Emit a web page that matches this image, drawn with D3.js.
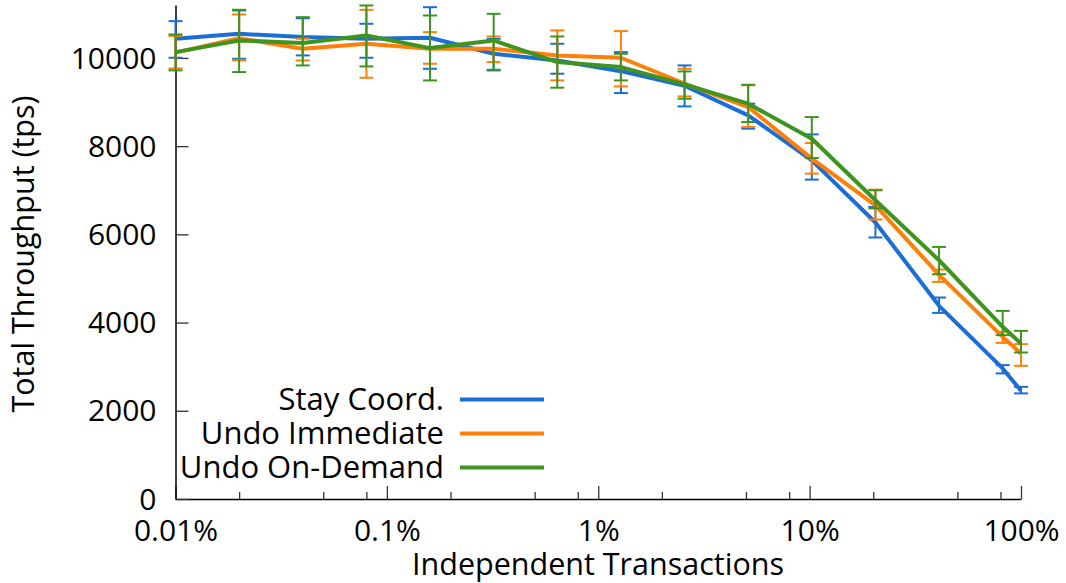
<!DOCTYPE html>
<html lang="en">
<head>
  <meta charset="UTF-8">
  <title>Total Throughput</title>
  <script src="https://d3js.org/d3.v7.min.js"></script>
  <style>
    * { margin: 0; padding: 0; }
    body { background-color: #fff; }
    svg { display: block; font-family: "Open Sans", sans-serif; }
  </style>
</head>
<body>
  <svg id="chart" width="1066" height="583"></svg>

  <script>
    // independent transactions (%)
    var xVals = [0.01, 0.02, 0.04, 0.08, 0.16, 0.32, 0.64, 1.28, 2.56, 5.12, 10.24, 20.48, 40.96, 81.92, 100];

    // Stay Coord.
    var stay   = [10435, 10547, 10472, 10434, 10457, 10095, 9943, 9700, 9370, 8698, 7678, 6270, 4380, 2960, 2453];
    var stayLo = [10004, 9981, 10057, 10004, 9754, 9717, 9642, 9203, 8901, 8396, 7241, 5929, 4220, 2847, 2394];
    var stayHi = [10834, 11076, 10900, 10774, 11150, 10434, 10321, 10132, 9830, 8963, 8267, 6622, 4568, 3035, 2543];

    // Undo Immediate
    var imm   = [10120, 10448, 10208, 10321, 10208, 10208, 10057, 10004, 9420, 8886, 7717, 6659, 5080, 3676, 3299];
    var immLo = [9760, 9943, 9943, 9551, 9868, 9906, 9490, 9355, 9128, 8433, 7377, 6335, 4922, 3540, 3020];
    var immHi = [10500, 10985, 10435, 11090, 10585, 10487, 10623, 10608, 9754, 9380, 8071, 7014, 5202, 3790, 3511];

    // Undo On-Demand
    var dem   = [10132, 10396, 10340, 10510, 10223, 10396, 9906, 9792, 9400, 8963, 8169, 6772, 5413, 3903, 3526];
    var demLo = [9717, 9679, 9830, 9807, 9490, 9732, 9325, 9490, 9075, 8547, 7731, 6587, 5096, 3715, 3322];
    var demHi = [10532, 11092, 10924, 11189, 10962, 11000, 10487, 10094, 9694, 9392, 8659, 6999, 5715, 4265, 3812];

    var seriesNames = ["Stay Coord.", "Undo Immediate", "Undo On-Demand"];
    var seriesColors = ["#1c6dd4", "#ff7f08", "#3d951f"];

    var xTicks = [0.01, 0.1, 1, 10, 100];
    var xTickLabels = ["0.01%", "0.1%", "1%", "10%", "100%"];
    var xMinor = [0.02, 0.05, 0.08, 0.2, 0.5, 0.8, 2, 5, 8, 20, 50, 80];
    var yTicks = [0, 2000, 4000, 6000, 8000, 10000];

    var svg = d3.select("#chart");
    var x = d3.scaleLog().domain([0.01, 100]).range([175.5, 1021]);
    var y = d3.scaleLinear().domain([0, 11200]).range([499, 5]);

    var series = [
      { name: seriesNames[0], color: seriesColors[0], v: stay, lo: stayLo, hi: stayHi },
      { name: seriesNames[1], color: seriesColors[1], v: imm, lo: immLo, hi: immHi },
      { name: seriesNames[2], color: seriesColors[2], v: dem, lo: demLo, hi: demHi }
    ];

    // axes
    var xAxis = d3.axisBottom(x).tickValues(xTicks).tickSizeInner(-13).tickSizeOuter(0)
      .tickFormat(function(d, i) { return xTickLabels[i]; });
    var gx = svg.append("g").attr("transform", "translate(0," + y(0) + ")").call(xAxis);
    gx.select(".domain").attr("stroke", "#000").attr("stroke-width", 1.5);
    gx.selectAll(".tick line").attr("stroke", "#333").attr("stroke-width", 1.3);
    gx.selectAll(".tick text").attr("font-size", 30).attr("font-family", "Open Sans")
      .attr("fill", "#000").attr("y", 0).attr("dy", 42);

    var gm = svg.append("g").attr("transform", "translate(0," + y(0) + ")")
      .call(d3.axisBottom(x).tickValues(xMinor).tickSizeInner(-7).tickSizeOuter(0).tickFormat(""));
    gm.select(".domain").remove();
    gm.selectAll(".tick line").attr("stroke", "#333").attr("stroke-width", 1.3);

    var yAxis = d3.axisLeft(y).tickValues(yTicks).tickSizeInner(-13).tickSizeOuter(0)
      .tickFormat(d3.format("d"));
    var gy = svg.append("g").attr("transform", "translate(" + x(0.01) + ",0)").call(yAxis);
    gy.select(".domain").attr("stroke", "#000").attr("stroke-width", 1.5);
    gy.selectAll(".tick line").attr("stroke", "#333").attr("stroke-width", 1.3);
    gy.selectAll(".tick text").attr("font-size", 30).attr("font-family", "Open Sans")
      .attr("fill", "#000").attr("x", -19).attr("dy", "0.34em");

    svg.append("text").attr("x", 598).attr("y", 575).attr("text-anchor", "middle")
      .attr("font-size", 30.5).text("Independent Transactions");
    svg.append("text").attr("transform", "translate(34,254) rotate(-90)").attr("text-anchor", "middle")
      .attr("font-size", 30.5).text("Total Throughput (tps)");

    // data
    var line = d3.line()
      .x(function(d, i) { return x(xVals[i]); })
      .y(function(d) { return y(d); });

    series.forEach(function(s) {
      var g = svg.append("g");
      var bars = g.selectAll(".eb").data(xVals).enter().append("g");
      bars.append("line")
        .attr("x1", function(d) { return x(d); }).attr("x2", function(d) { return x(d); })
        .attr("y1", function(d, i) { return y(s.lo[i]); }).attr("y2", function(d, i) { return y(s.hi[i]); });
      bars.append("line")
        .attr("x1", function(d) { return x(d) - 7; }).attr("x2", function(d) { return x(d) + 7; })
        .attr("y1", function(d, i) { return y(s.lo[i]); }).attr("y2", function(d, i) { return y(s.lo[i]); });
      bars.append("line")
        .attr("x1", function(d) { return x(d) - 7; }).attr("x2", function(d) { return x(d) + 7; })
        .attr("y1", function(d, i) { return y(s.hi[i]); }).attr("y2", function(d, i) { return y(s.hi[i]); });
      bars.selectAll("line").attr("stroke", s.color).attr("stroke-width", 2);

      g.append("path").attr("d", line(s.v)).attr("fill", "none")
        .attr("stroke", s.color).attr("stroke-width", 4).attr("stroke-linejoin", "round");
    });

    // legend
    var leg = svg.append("g");
    series.forEach(function(s, i) {
      var ly = 399.5 + i * 34;
      leg.append("text").attr("x", 444).attr("y", ly).attr("dy", "0.35em")
        .attr("text-anchor", "end").attr("font-size", 31).text(s.name);
      leg.append("line").attr("x1", 460).attr("x2", 544).attr("y1", ly).attr("y2", ly)
        .attr("stroke", s.color).attr("stroke-width", 4);
    });
  </script>
</body>
</html>
